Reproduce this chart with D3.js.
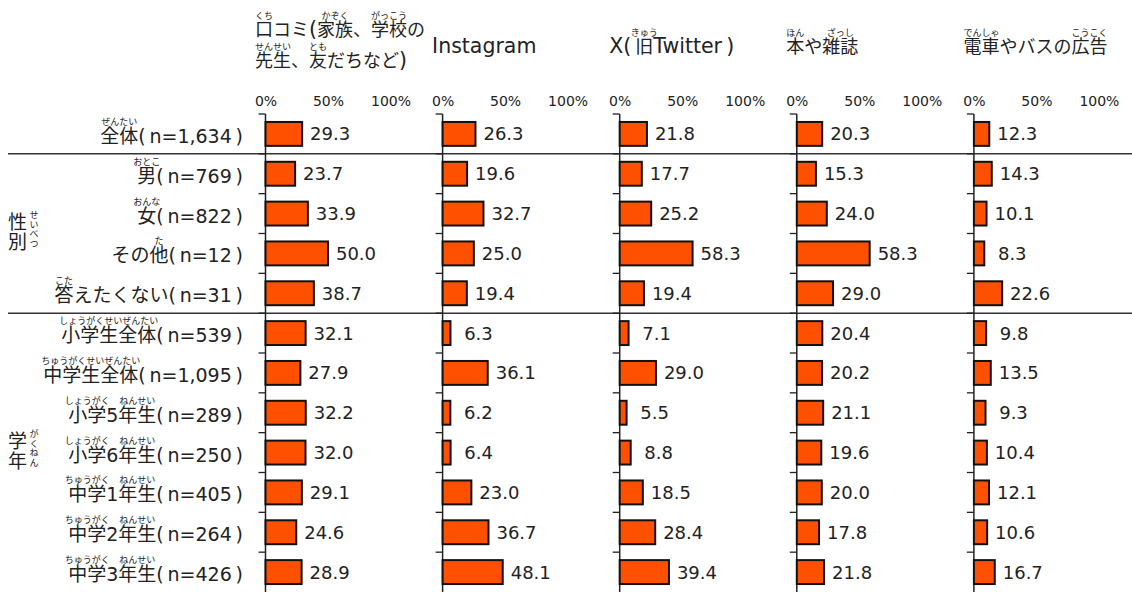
<!DOCTYPE html>
<html><head><meta charset="utf-8">
<script src="https://cdn.jsdelivr.net/npm/d3@7"></script>
<style>body{margin:0;background:#fff}svg{display:block}</style>
</head><body>
<svg id="c" width="1132" height="592"></svg>
<script>
// ---- data ----
const rowLabels = [
  "{全体|ぜんたい}(\u2009n=1,634\u2009)",
  "{男|おとこ}(\u2009n=769\u2009)",
  "{女|おんな}(\u2009n=822\u2009)",
  "その{他|た}(\u2009n=12\u2009)",
  "{答|こた}えたくない(\u2009n=31\u2009)",
  "{小学生全体|しょうがくせいぜんたい}(\u2009n=539\u2009)",
  "{中学生全体|ちゅうがくせいぜんたい}(\u2009n=1,095\u2009)",
  "{小学|しょうがく}5{年生|ねんせい}(\u2009n=289\u2009)",
  "{小学|しょうがく}6{年生|ねんせい}(\u2009n=250\u2009)",
  "{中学|ちゅうがく}1{年生|ねんせい}(\u2009n=405\u2009)",
  "{中学|ちゅうがく}2{年生|ねんせい}(\u2009n=264\u2009)",
  "{中学|ちゅうがく}3{年生|ねんせい}(\u2009n=426\u2009)"
];
const headerLines = [
  ["{口|くち}コミ({家族|かぞく}、{学校|がっこう}の", "{先生|せんせい}、{友|とも}だちなど)"],
  ["Instagram"],
  ["X(\u2009{旧|きゅう}Twitter\u2009)"],
  ["{本|ほん}や{雑誌|ざっし}"],
  ["{電車|でんしゃ}やバスの{広告|こうこく}"]
];
const groupLabels = [
  {chars: "性別", kana: "せいべつ", from: 1, to: 4},
  {chars: "学年", kana: "がくねん", from: 5, to: 11}
];
const tickValues = [0, 50, 100];
const tickLabels = ["0%", "50%", "100%"];
const kuchikomi = [29.3, 23.7, 33.9, 50.0, 38.7, 32.1, 27.9, 32.2, 32.0, 29.1, 24.6, 28.9];
const instagram = [26.3, 19.6, 32.7, 25.0, 19.4, 6.3, 36.1, 6.2, 6.4, 23.0, 36.7, 48.1];
const xTwitter  = [21.8, 17.7, 25.2, 58.3, 19.4, 7.1, 29.0, 5.5, 8.8, 18.5, 28.4, 39.4];
const books     = [20.3, 15.3, 24.0, 58.3, 29.0, 20.4, 20.2, 21.1, 19.6, 20.0, 17.8, 21.8];
const trainAds  = [12.3, 14.3, 10.1, 8.3, 22.6, 9.8, 13.5, 9.3, 10.4, 12.1, 10.6, 16.7];
const series = [kuchikomi, instagram, xTwitter, books, trainAds];
const separatorsAfter = [0, 4];

// ---- layout ----
const FONT = '"DejaVu Sans","Noto Sans CJK JP",sans-serif';
const JFONT = '"Noto Sans CJK JP",sans-serif';
const svg = d3.select("#c");
const y = d3.scaleBand().domain(d3.range(rowLabels.length)).range([114, 592]).paddingInner(0.4).paddingOuter(0.2);
const step = y.step();
const boundary = k => 114 + k * step;
const panelX = d3.scaleLinear().domain([0, 1]).range([265.5, 442.6]);
const x = d3.scaleLinear().domain([0, 100]).range([0, 125]);

function parse(str) {
  const segs = []; const re = /\{([^|}]+)\|([^}]+)\}|([^{]+)/g; let m;
  while ((m = re.exec(str))) { if (m[1]) segs.push({b: m[1], r: m[2]}); else segs.push({b: m[3]}); }
  return segs;
}
// Draws a label with furigana (ruby) placed above the annotated characters, all inside one text element.
function rubyText(g, str, tx, ty, anchor, size, latinSize, rdy) {
  const segs = parse(str);
  const t = g.append("text").attr("x", tx).attr("y", ty).attr("text-anchor", anchor)
    .style("font-family", FONT).style("font-size", size + "px").attr("fill", "#222");
  segs.forEach(s => {
    if (s.r) { t.append("tspan").text(s.b); return; }
    const runs = s.b.match(/[\x20-\x7E\u2009]+|[^\x20-\x7E\u2009]+/g) || [];
    runs.forEach(r => {
      const sp = t.append("tspan").text(r);
      if (/^[\x20-\x7E\u2009]+$/.test(r)) sp.style("font-size", latinSize + "px");
    });
  });
  const node = t.node(); let idx = 0; const rubies = [];
  segs.forEach(s => {
    const n = s.b.length;
    if (s.r) {
      const x1 = node.getStartPositionOfChar(idx).x;
      const x2 = node.getEndPositionOfChar(idx + n - 1).x;
      rubies.push({cx: (x1 + x2) / 2, r: s.r});
    }
    idx += n;
  });
  rubies.forEach(rb => {
    t.append("tspan").attr("x", rb.cx).attr("y", ty + rdy).attr("text-anchor", "middle")
      .style("font-family", JFONT).style("font-size", "9px").text(rb.r);
  });
}

// separators
svg.append("g").selectAll("line").data(separatorsAfter).join("line")
  .attr("x1", 8).attr("x2", 1132)
  .attr("y1", d => boundary(d + 1)).attr("y2", d => boundary(d + 1))
  .attr("stroke", "#333").attr("stroke-width", 1.5);

// panels
series.forEach((vals, p) => {
  const x0 = panelX(p);
  const g = svg.append("g").attr("transform", `translate(${x0},0)`);
  // header
  const hg = svg.append("g");
  const lines = headerLines[p];
  if (lines.length === 2) {
    rubyText(hg, lines[0], x0 - 10.5, 36, "start", 18, 20.5, -17);
    rubyText(hg, lines[1], x0 - 10.5, 67, "start", 18, 20.5, -17);
  } else {
    rubyText(hg, lines[0], x0 - 10.5, 53, "start", 18, 20.5, -17);
  }
  // top tick labels
  const ax = d3.axisTop(x).tickValues(tickValues).tickFormat((d, i) => tickLabels[i]).tickSize(0).tickPadding(0);
  const axg = g.append("g").attr("transform", "translate(0,106)").call(ax);
  axg.select(".domain").remove();
  axg.selectAll("text").style("font-family", FONT).style("font-size", "14px").attr("fill", "#222").attr("dy", 0);
  // vertical axis
  g.append("line").attr("x1", 0).attr("x2", 0).attr("y1", 114).attr("y2", 592)
    .attr("stroke", "#222").attr("stroke-width", 1.5);
  g.append("g").selectAll("line").data(d3.range(0, rowLabels.length)).join("line")
    .attr("x1", -7).attr("x2", 0).attr("y1", d => boundary(d)).attr("y2", d => boundary(d))
    .attr("stroke", "#222").attr("stroke-width", 1.3);
  // bars
  g.append("g").selectAll("rect").data(vals).join("rect")
    .attr("x", 0).attr("y", (d, i) => y(i)).attr("width", d => x(d)).attr("height", y.bandwidth())
    .attr("fill", "#FF5000").attr("stroke", "#111").attr("stroke-width", 2);
  // values
  g.append("g").selectAll("text").data(vals).join("text")
    .attr("x", d => x(d) + 28).attr("y", (d, i) => y(i) + y.bandwidth() / 2 + 6.5)
    .attr("text-anchor", "middle").style("font-family", FONT).style("font-size", "18px").attr("fill", "#222")
    .text(d => d.toFixed(1));
});

// row labels
const lg = svg.append("g");
rowLabels.forEach((lab, i) => {
  rubyText(lg, lab, 243, y(i) + y.bandwidth() / 2 + 9, "end", 19, 19, -18);
});

// group labels (vertical text, with vertical furigana)
groupLabels.forEach(gl => {
  const gc = (boundary(gl.from) + boundary(gl.to + 1)) / 2;
  const top = gc - 21;
  svg.append("text").attr("x", 17.5).attr("y", top)
    .style("writing-mode", "vertical-rl").style("letter-spacing", "1px")
    .style("font-family", JFONT).style("font-size", "19px").attr("fill", "#222").text(gl.chars);
  svg.append("text").attr("x", 34).attr("y", top - 2)
    .style("writing-mode", "vertical-rl").style("letter-spacing", "0.5px")
    .style("font-family", JFONT).style("font-size", "9px").attr("fill", "#222").text(gl.kana);
});
</script>
</body></html>
